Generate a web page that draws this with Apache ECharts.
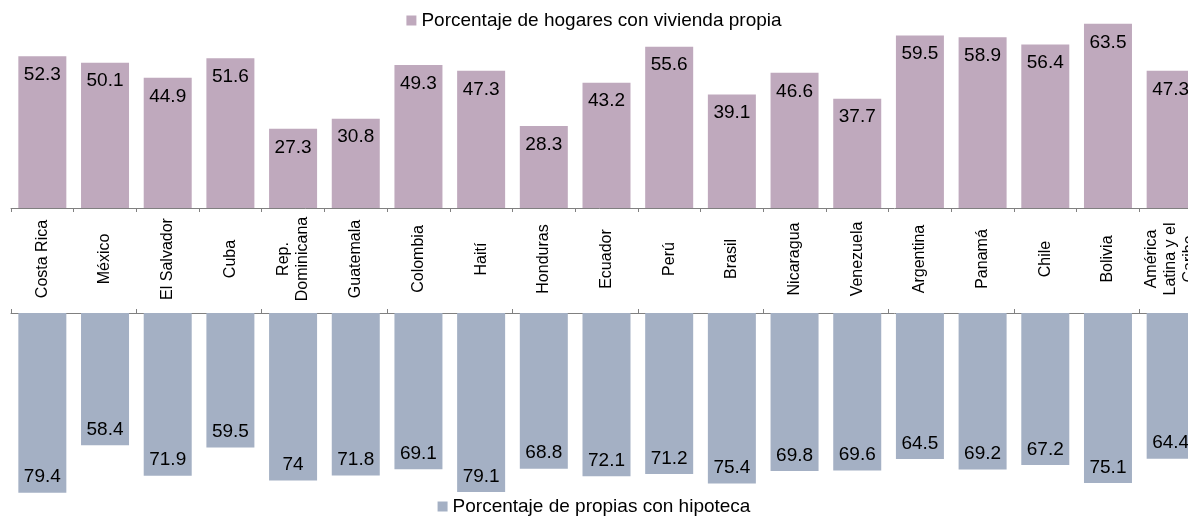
<!DOCTYPE html>
<html>
<head>
<meta charset="utf-8">
<script src="https://cdn.jsdelivr.net/npm/echarts@6/dist/echarts.min.js"></script>
<style>
html,body{margin:0;padding:0;background:#fff;}
#c{width:1188px;height:516px;}
</style>
</head>
<body>
<div id="c"></div>
<script>
const categories = ['Costa Rica','México','El Salvador','Cuba','Rep.\nDominicana','Guatemala','Colombia','Haití','Honduras','Ecuador','Perú','Brasil','Nicaragua','Venezuela','Argentina','Panamá','Chile','Bolivia','América\nLatina y el\nCaribe'];
const viviendaPropia = [52.3,50.1,44.9,51.6,27.3,30.8,49.3,47.3,28.3,43.2,55.6,39.1,46.6,37.7,59.5,58.9,56.4,63.5,47.3];
const conHipoteca = [79.4,58.4,71.9,59.5,74,71.8,69.1,79.1,68.8,72.1,71.2,75.4,69.8,69.6,64.5,69.2,67.2,75.1,64.4];
const seriesNames = ['Porcentaje de hogares con vivienda propia','Porcentaje de propias con hipoteca'];

const FONT = "'Liberation Sans', Arial, sans-serif";
const chart = echarts.init(document.getElementById('c'), null, {renderer:'canvas'});
const axisLineStyle = {color:'#808080', width:1};
chart.setOption({
  animation:false,
  backgroundColor:'#ffffff',
  textStyle:{fontFamily:FONT},
  legend:[
    {data:[seriesNames[0]], top:6, left:'center', icon:'rect', itemWidth:10, itemHeight:10,
     textStyle:{fontSize:19, color:'#000', fontFamily:FONT}},
    {data:[seriesNames[1]], top:492, left:'center', icon:'rect', itemWidth:10, itemHeight:10,
     textStyle:{fontSize:19, color:'#000', fontFamily:FONT}}
  ],
  grid:[
    {left:11, width:1191, top:5, height:203, outerBoundsMode:'none', containLabel:false},
    {left:11, width:1191, top:313, height:181, outerBoundsMode:'none', containLabel:false}
  ],
  xAxis:[
    {type:'category', gridIndex:0, data:categories, position:'bottom',
     axisLine:{show:true, lineStyle:axisLineStyle},
     axisTick:{show:true, length:4, lineStyle:axisLineStyle},
     axisLabel:{interval:0, rotate:90, align:'center', verticalAlign:'middle', margin:51,
       fontSize:16, lineHeight:19, color:'#000', fontFamily:FONT}},
    {type:'category', gridIndex:1, data:categories, position:'top',
     axisLine:{show:true, lineStyle:axisLineStyle},
     axisTick:{show:true, length:4, lineStyle:axisLineStyle},
     axisLabel:{show:false}}
  ],
  yAxis:[
    {type:'value', gridIndex:0, min:0, max:70, show:false, splitLine:{show:false}},
    {type:'value', gridIndex:1, min:0, max:80, inverse:true, show:false, splitLine:{show:false}}
  ],
  series:[
    {name:seriesNames[0], type:'bar', xAxisIndex:0, yAxisIndex:0, data:viviendaPropia, barWidth:48,
     itemStyle:{color:'#BFA9BD'},
     label:{show:true, position:'insideTop', distance:9, fontSize:19, color:'#000', fontFamily:FONT}},
    {name:seriesNames[1], type:'bar', xAxisIndex:1, yAxisIndex:1, data:conHipoteca, barWidth:48,
     itemStyle:{color:'#A4B0C4'},
     label:{show:true, position:'insideBottom', distance:6, fontSize:19, color:'#000', fontFamily:FONT}}
  ]
});
</script>
</body>
</html>
